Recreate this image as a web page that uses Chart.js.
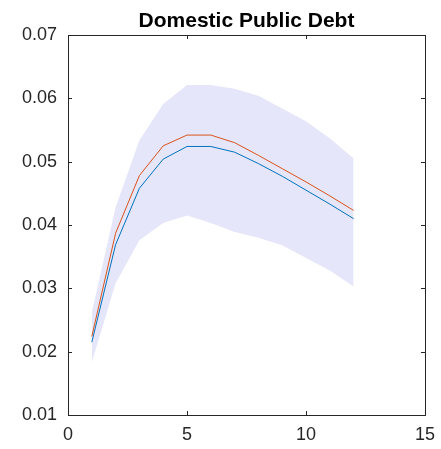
<!DOCTYPE html>
<html>
<head>
<meta charset="utf-8">
<script src="https://cdn.jsdelivr.net/npm/chart.js@4.4.1/dist/chart.umd.min.js"></script>
<style>
html,body{margin:0;padding:0;background:#fff;}
#wrap{width:441px;height:449px;}
</style>
</head>
<body>
<div id="wrap"><canvas id="c" width="441" height="449"></canvas></div>
<script>
const horizons = [1,2,3,4,5,6,7,8,9,10,11,12];
const bandUpper = [0.0262,0.0428,0.0534,0.0591,0.0621,0.0621,0.0615,0.0604,0.0584,0.0564,0.0537,0.0505];
const bandLower = [0.0183,0.0308,0.0376,0.0403,0.0415,0.0403,0.0389,0.0380,0.0368,0.0348,0.0328,0.0303];
const redLine   = [0.0224,0.0387,0.0478,0.0525,0.0542,0.0542,0.0530,0.0510,0.0489,0.0468,0.0446,0.0423];
const blueLine  = [0.0215,0.0369,0.0458,0.0504,0.0524,0.0524,0.0515,0.0497,0.0477,0.0455,0.0433,0.0410];
const xTicks = [0,5,10,15];
const yTicks = [0.01,0.02,0.03,0.04,0.05,0.06,0.07];
const titleText = 'Domestic Public Debt';

const pts = arr => horizons.map((h,i)=>({x:h,y:arr[i]}));
const FONT = "'Liberation Sans', Arial, Helvetica, sans-serif";
const AX = '#262626';

const boxPlugin = {
  id:'box',
  afterDraw(chart){
    const ctx = chart.ctx, a = chart.chartArea;
    const xs = chart.scales.x, ys = chart.scales.y;
    ctx.save();
    ctx.strokeStyle = AX; ctx.lineWidth = 1;
    ctx.strokeRect(Math.round(a.left)+0.5, Math.round(a.top)+0.5, Math.round(a.right-a.left), Math.round(a.bottom-a.top));
    const L = 4;
    ctx.beginPath();
    xTicks.forEach(v=>{
      const p = Math.round(xs.getPixelForValue(v))+0.5;
      ctx.moveTo(p,a.bottom); ctx.lineTo(p,a.bottom-L);
      ctx.moveTo(p,a.top); ctx.lineTo(p,a.top+L);
    });
    yTicks.forEach(v=>{
      const p = Math.round(ys.getPixelForValue(v))+0.5;
      ctx.moveTo(a.left,p); ctx.lineTo(a.left+L,p);
      ctx.moveTo(a.right,p); ctx.lineTo(a.right-L,p);
    });
    ctx.stroke();
    // title centred over the axes
    ctx.fillStyle = '#000';
    ctx.font = 'bold 21px ' + FONT;
    ctx.textAlign = 'center';
    ctx.textBaseline = 'alphabetic';
    ctx.fillText(titleText, (a.left + a.right)/2, 26.5);
    ctx.restore();
  }
};

new Chart(document.getElementById('c'),{
  type:'line',
  data:{
    datasets:[
      {order:10, data:pts(bandUpper), borderWidth:0, borderColor:'rgba(0,0,0,0)', backgroundColor:'rgb(230,230,250)', fill:'+1', pointRadius:0, tension:0},
      {order:11, data:pts(bandLower), borderWidth:0, borderColor:'rgba(0,0,0,0)', backgroundColor:'rgb(230,230,250)', fill:false, pointRadius:0, tension:0},
      {order:1, data:pts(blueLine), borderWidth:1, borderColor:'#0072BD', fill:false, pointRadius:0, tension:0},
      {order:0, data:pts(redLine), borderWidth:1, borderColor:'#D95319', fill:false, pointRadius:0, tension:0}
    ]
  },
  options:{
    responsive:false,
    animation:false,
    devicePixelRatio:1,
    layout:{padding:{left:0,right:16,top:35,bottom:0}},
    plugins:{
      legend:{display:false},
      tooltip:{enabled:false},
      title:{display:false}
    },
    scales:{
      x:{
        type:'linear', min:0, max:15,
        afterBuildTicks(s){ s.ticks = xTicks.map(v=>({value:v})); },
        afterFit(s){ s.height = 34; s.paddingLeft = 0; s.paddingRight = 0; },
        grid:{display:false, drawTicks:false},
        border:{display:false},
        ticks:{color:AX, font:{family:FONT, size:18}, padding:9, maxRotation:0,
          callback:v=>String(v)}
      },
      y:{
        type:'linear', min:0.01, max:0.07,
        afterBuildTicks(s){ s.ticks = yTicks.map(v=>({value:v})); },
        afterFit(s){ s.width = 68; s.paddingTop = 0; s.paddingBottom = 0; },
        grid:{display:false, drawTicks:false},
        border:{display:false},
        ticks:{color:AX, font:{family:FONT, size:18}, padding:11,
          callback:v=>v.toFixed(2)}
      }
    }
  },
  plugins:[boxPlugin]
});
</script>
</body>
</html>
